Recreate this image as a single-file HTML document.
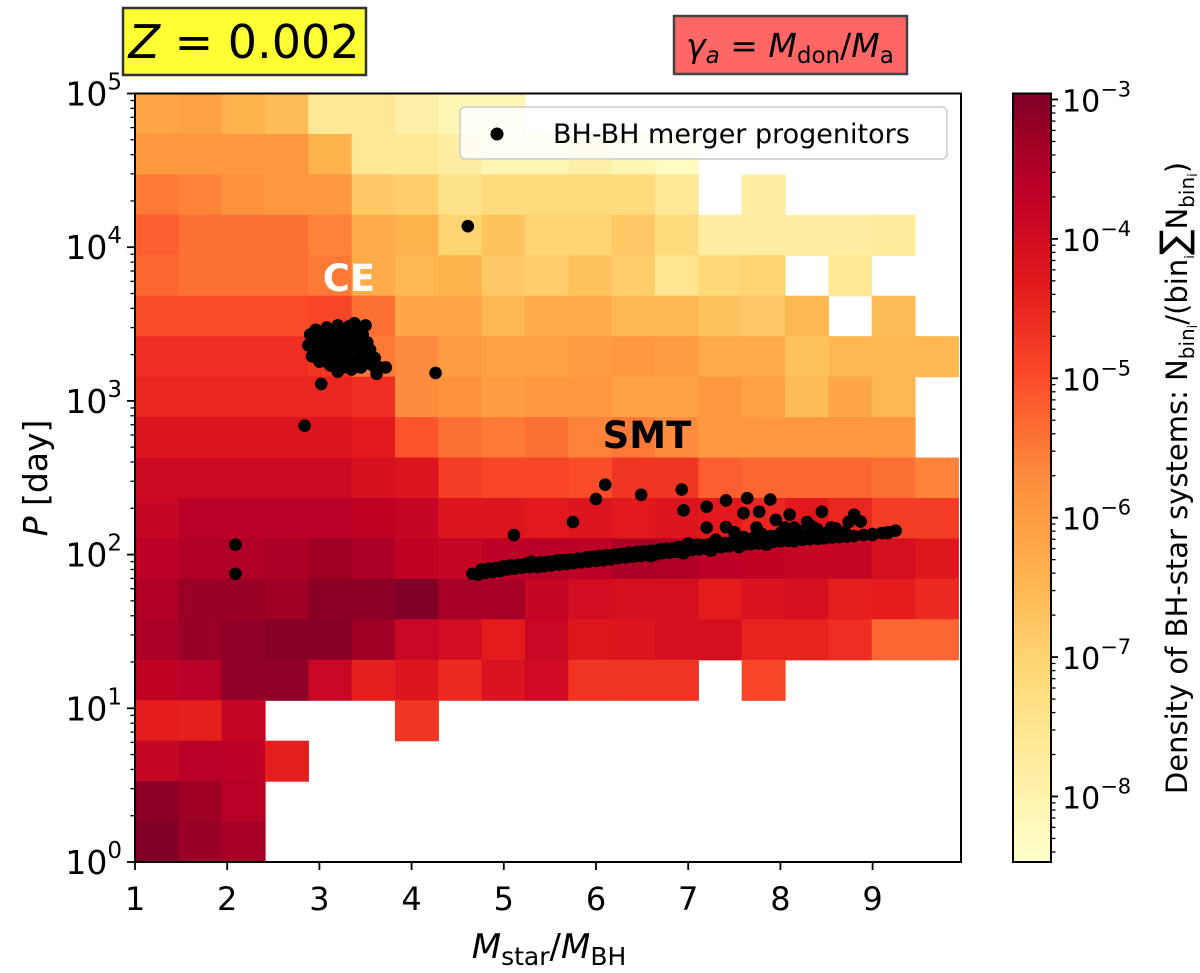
<!DOCTYPE html>
<html><head><meta charset="utf-8">
<style>
html,body{margin:0;padding:0;background:#fff;}
svg{display:block;font-family:"DejaVu Sans","Liberation Sans",sans-serif;}
</style></head>
<body>
<svg id="chart" width="1200" height="973" viewBox="0 0 1200 973" xmlns="http://www.w3.org/2000/svg">
  <defs>
    <linearGradient id="cbgrad" x1="0" y1="1" x2="0" y2="0">
      <stop offset="0" stop-color="#ffffcc"/><stop offset="0.125" stop-color="#ffeda0"/>
      <stop offset="0.25" stop-color="#fed976"/><stop offset="0.375" stop-color="#feb24c"/>
      <stop offset="0.5" stop-color="#fd8d3c"/><stop offset="0.625" stop-color="#fc4e2a"/>
      <stop offset="0.75" stop-color="#e31a1c"/><stop offset="0.875" stop-color="#bd0026"/>
      <stop offset="1" stop-color="#800026"/>
    </linearGradient>
    <clipPath id="plotclip"><rect x="135" y="93.5" width="826" height="768.5"/></clipPath>
  </defs>
  <g id="heat" clip-path="url(#plotclip)"></g>
  <g id="pts" clip-path="url(#plotclip)"></g>
  <text x="349" y="291" font-size="37" font-weight="bold" fill="#fff" text-anchor="middle">CE</text>
  <text x="647" y="448" font-size="37" font-weight="bold" fill="#000" text-anchor="middle">SMT</text>
  <g>
    <rect x="460" y="107" width="487" height="52" rx="5" fill="#fff" fill-opacity="0.85" stroke="#ccc" stroke-width="1.5"/>
    <circle cx="497" cy="134" r="6.5" fill="#000"/>
    <text x="553" y="143" font-size="27" fill="#000">BH-BH merger progenitors</text>
  </g>
  <rect x="135" y="93.5" width="826" height="768.5" fill="none" stroke="#000" stroke-width="2"/>
  <g id="axes"></g>
  <text x="549" y="958" font-size="34" text-anchor="middle"><tspan font-style="italic">M</tspan><tspan font-size="25" dy="7">star</tspan><tspan dy="-7">/</tspan><tspan font-style="italic">M</tspan><tspan font-size="25" dy="7">BH</tspan></text>
  <text transform="translate(47,478) rotate(-90)" font-size="33" text-anchor="middle"><tspan font-style="italic">P</tspan> [day]</text>
  <rect x="1013" y="93.5" width="38" height="768.5" fill="url(#cbgrad)" stroke="#000" stroke-width="2"/>
  <g id="cbaxis"></g>
  <text transform="translate(1187,478) rotate(-90)" font-size="29" text-anchor="middle">Density of BH-star systems: N<tspan font-size="20" dy="7">bin</tspan><tspan font-size="13" dy="3">i</tspan><tspan dy="-10">/(bin</tspan><tspan font-size="13" dy="7">i</tspan><tspan dy="-7" font-size="38">∑</tspan>N<tspan font-size="20" dy="7">bin</tspan><tspan font-size="13" dy="3">i</tspan><tspan dy="-10">)</tspan></text>
  <g>
    <rect x="123" y="8" width="243" height="67" fill="#ffff33" stroke="#333" stroke-width="2.5"/>
    <text x="244" y="58" font-size="46" text-anchor="middle"><tspan font-style="italic">Z</tspan> = 0.002</text>
  </g>
  <g>
    <rect x="674" y="16" width="233" height="58" fill="#ff6666" stroke="#444" stroke-width="2.5"/>
    <text x="790" y="57" font-size="33" text-anchor="middle"><tspan font-style="italic">γ</tspan><tspan font-style="italic" font-size="23" dy="6">a</tspan><tspan dy="-6"> = </tspan><tspan font-style="italic">M</tspan><tspan font-size="23" dy="6">don</tspan><tspan dy="-6">/</tspan><tspan font-style="italic">M</tspan><tspan font-size="23" dy="6">a</tspan></text>
  </g>
</svg>
<script>
// ---- data ----
const xBinStart = 1.0, xBinWidth = 0.47, nCols = 19;
const logPMin = 0, logPMax = 5, nRows = 19;
// log10 density per cell, rows from top (high P) to bottom (low P)
const densityRows = [
 [-6.2,-6.1,-6.4,-6.6,-7.6,-7.6,-7.9,-8.1,-8.1,null,null,null,null,null,null,null,null,null,null],
 [-5.9,-5.9,-5.9,-5.9,-6.4,-7.6,-7.6,-7.8,-8.1,-8.1,-7.9,-8.1,-8.3,null,null,null,null,null,null],
 [-5.5,-5.6,-5.8,-5.9,-5.9,-6.8,-6.9,-7.4,-7.2,-7.2,-7.2,-7.2,-7.6,null,-7.8,null,null,null,null],
 [-5.2,-5.4,-5.4,-5.4,-5.6,-6.3,-6.4,-7.0,-6.7,-7.0,-7.0,-6.8,-7.2,-7.8,-7.8,-7.8,-7.8,-7.7,null],
 [-5.3,-5.4,-5.4,-5.4,-5.5,-6.3,-6.5,-6.4,-6.8,-6.9,-6.7,-6.9,-7.5,-7.1,-7.0,null,-7.6,null,null],
 [-5.0,-5.0,-5.0,-5.0,-4.9,-5.4,-6.2,-6.2,-6.5,-6.3,-6.3,-6.5,-6.5,-6.7,-6.8,-6.5,null,-6.6,null],
 [-4.6,-4.6,-4.6,-4.6,-4.7,-5.5,-5.7,-6.0,-6.1,-6.1,-6.0,-5.9,-6.0,-6.3,-6.3,-6.7,-6.5,-6.5,-6.5],
 [-4.5,-4.5,-4.5,-4.5,-4.5,-4.6,-5.7,-5.8,-6.0,-5.9,-5.9,-6.1,-6.1,-5.9,-6.1,-6.6,-6.2,-6.5,null],
 [-4.2,-4.2,-4.2,-4.2,-4.2,-4.3,-5.1,-5.4,-5.5,-5.4,-5.6,-5.5,-5.7,-5.9,-5.9,-5.9,-5.9,-5.9,null],
 [-3.9,-3.9,-3.9,-3.9,-3.9,-4.1,-4.2,-4.8,-4.9,-4.9,-5.0,-4.7,-4.7,-5.2,-5.3,-5.3,-5.3,-5.4,-5.6],
 [-3.8,-3.6,-3.6,-3.6,-3.6,-3.7,-3.8,-4.2,-4.2,-4.3,-4.2,-4.3,-4.2,-4.3,-4.5,-4.3,-4.5,-4.8,-4.8],
 [-3.65,-3.5,-3.5,-3.45,-3.3,-3.45,-3.7,-3.8,-3.65,-3.6,-3.65,-3.45,-3.5,-3.65,-3.7,-3.8,-3.8,-4.05,-4.25],
 [-3.5,-3.25,-3.25,-3.3,-3.1,-3.1,-2.97,-3.4,-3.4,-3.8,-4.0,-4.05,-4.05,-4.35,-4.15,-4.05,-4.4,-4.35,-4.55],
 [-3.45,-3.25,-3.15,-3.05,-3.05,-3.3,-3.85,-4.0,-4.35,-3.85,-4.25,-4.2,-4.05,-4.05,-4.45,-4.45,-4.6,-5.3,-5.3],
 [-3.7,-3.6,-3.15,-3.15,-3.85,-4.4,-4.2,-4.55,-4.15,-3.95,-4.7,-4.7,-4.7,null,-4.9,null,null,null,null],
 [-4.35,-4.4,-3.8,null,null,null,-4.7,null,null,null,null,null,null,null,null,null,null,null,null],
 [-3.8,-3.6,-3.65,-4.4,null,null,null,null,null,null,null,null,null,null,null,null,null,null,null],
 [-3.1,-3.3,-3.6,null,null,null,null,null,null,null,null,null,null,null,null,null,null,null,null],
 [-2.97,-3.25,-3.4,null,null,null,null,null,null,null,null,null,null,null,null,null,null,null,null]
];
const progenitorMass = [4.61,4.26,3.02,2.84,2.09,2.09,
 2.9,2.96,3.02,3.08,3.14,3.2,3.26,3.32,3.38,3.44,3.5,2.88,2.95,3.03,3.1,3.17,3.24,3.31,3.38,3.45,3.52,2.92,3.0,3.07,3.14,3.21,3.28,3.35,3.42,3.49,3.56,3.25,3.35,3.45,3.58,3.66,3.05,3.55,3.2,3.62,3.72,3.12,
 2.93,2.99,3.05,3.11,3.17,3.23,3.29,3.35,3.41,3.47,2.98,3.06,3.14,3.22,3.3,3.38,3.46,3.54,3.6,3.1,3.18,3.26,3.34,3.42,3.5,3.15,3.3,3.4,
 4.66,4.72,4.8,4.88,4.96,5.04,5.12,5.2,5.28,5.36,5.44,5.52,5.6,5.68,5.76,5.84,5.92,6.0,6.08,6.16,6.24,6.32,6.4,6.48,6.56,6.64,6.72,6.8,6.88,6.96,7.04,7.12,7.2,7.28,7.36,7.44,7.52,7.6,7.68,7.76,7.84,7.92,8.0,8.08,8.16,8.24,8.32,8.4,8.48,8.56,8.64,8.72,8.8,8.9,9.0,9.1,9.17,9.25,
 4.76,4.84,4.92,5.0,5.08,5.16,5.24,5.32,5.4,5.48,5.56,5.64,5.72,5.8,5.88,5.96,6.04,6.12,6.2,6.28,6.36,6.44,6.52,6.6,6.68,6.76,6.84,6.92,7.0,7.08,7.16,7.24,7.32,7.4,7.48,7.56,7.64,7.72,7.8,7.88,7.96,8.04,8.12,8.2,8.28,8.36,8.44,8.52,8.6,8.68,
 5.3,5.6,5.9,6.2,6.5,6.7,6.9,7.1,7.3,7.5,7.7,7.9,8.1,8.3,8.5,8.7,6.6,6.95,7.25,7.55,7.85,8.15,8.45,
 7.0,7.3,7.6,7.8,8.0,8.2,8.4,8.6,7.5,7.75,8.05,8.35,8.55,
 6.1,6.0,6.49,6.93,6.95,5.75,5.11,7.2,7.2,7.41,7.64,7.89,7.41,7.6,7.77,8.1,8.29,8.45,8.8,8.87,8.74,9.0,9.17,7.95,8.15,7.74];
const progenitorPeriod = [13700,1520,1290,690,116,75,
 2700,2900,2500,3000,2800,3100,2900,3050,3200,2950,3100,2300,2200,2300,2400,2450,2500,2550,2600,2650,2400,1950,1800,1950,2050,1900,2000,1850,1950,1850,1800,1650,1600,1650,1700,1650,1950,2150,1550,1500,1650,1700,
 2500,2600,2700,2650,2550,2700,2600,2750,2500,2700,2100,2150,2100,2200,2150,2250,2200,2050,1900,1750,1750,1800,1750,1750,1750,2400,2300,2350,
 75,74,76,77,78,80,81,82,83,83,84,85,86,87,88,89,90,91,92,93,95,96,97,98,99,100,102,103,104,105,107,108,109,111,112,113,115,116,117,118,120,121,122,123,124,125,126,127,128,129,130,131,132,134,136,138,140,143,
 80,81,82,84,85,86,87,88,89,90,91,92,93,94,95,97,98,99,100,101,103,104,105,106,107,109,110,111,113,114,115,117,118,119,121,122,124,125,126,128,129,130,131,132,133,134,136,137,138,139,
 90,92,96,100,104,108,112,116,120,124,128,132,134,136,138,140,98,102,106,112,116,122,128,
 118,125,130,136,138,142,146,148,140,145,150,152,150,
 285,230,245,265,194,163,134,150,205,225,233,228,151,186,190,182,163,190,182,164,163,134,138,168,150,150];
const xTicks = [1,2,3,4,5,6,7,8,9];
const yTickExps = [0,1,2,3,4,5];
const cbTickExps = [-3,-4,-5,-6,-7,-8];
const cbMin = -8.47, cbMax = -2.957;

// ---- scales ----
const PL=135, PR=961, PT=93.5, PB=862;
function xs(v){return PL+(v-1)*92.2;}
function ys(logP){return PB-(logP)*(PB-PT)/5;}
function cbY(e){return 862-(e-cbMin)/(cbMax-cbMin)*(862-93.5);}
const stops=["#ffffcc","#ffeda0","#fed976","#feb24c","#fd8d3c","#fc4e2a","#e31a1c","#bd0026","#800026"].map(h=>[parseInt(h.slice(1,3),16),parseInt(h.slice(3,5),16),parseInt(h.slice(5,7),16)]);
function cmap(v){let t=(v-cbMin)/(cbMax-cbMin);t=Math.max(0,Math.min(1,t));const f=t*8,i=Math.min(7,Math.floor(f)),r=f-i;const a=stops[i],b=stops[i+1];return `rgb(${Math.round(a[0]+(b[0]-a[0])*r)},${Math.round(a[1]+(b[1]-a[1])*r)},${Math.round(a[2]+(b[2]-a[2])*r)})`;}
const NS="http://www.w3.org/2000/svg";
function mk(tag,attrs,parent){const e=document.createElementNS(NS,tag);for(const k in attrs)e.setAttribute(k,attrs[k]);parent.appendChild(e);return e;}

// ---- heatmap ----
const heat=document.getElementById('heat');
const rowStep=(logPMax-logPMin)/nRows;
densityRows.forEach((row,ri)=>{
  const topLog=logPMax-ri*rowStep, botLog=topLog-rowStep;
  row.forEach((v,ci)=>{
    if(v===null)return;
    const x0=xs(xBinStart+ci*xBinWidth), x1=xs(xBinStart+(ci+1)*xBinWidth);
    const y0=ys(topLog), y1=ys(botLog);
    const r=mk('rect',{x:x0.toFixed(2),y:y0.toFixed(2),width:(x1-x0+0.6).toFixed(2),height:(y1-y0+0.6).toFixed(2),fill:cmap(v)},heat);
    
    
  });
});

// ---- scatter ----
const pts=document.getElementById('pts');
progenitorMass.forEach((m,i)=>{
  const c=mk('circle',{cx:xs(m).toFixed(2),cy:ys(Math.log10(progenitorPeriod[i])).toFixed(2),r:6.3,fill:'#000'},pts);
  
  
});

// ---- axes ----
const ax=document.getElementById('axes');
xTicks.forEach(t=>{
  const x=xs(t);
  mk('line',{x1:x,y1:PB,x2:x,y2:PB+8,stroke:'#000','stroke-width':1.8},ax);
  const tx=mk('text',{x:x,y:910,'font-size':32,'text-anchor':'middle'},ax);
  tx.textContent=t;
  
  
});
yTickExps.forEach(e=>{
  const y=ys(e);
  mk('line',{x1:PL,y1:y,x2:PL-8,y2:y,stroke:'#000','stroke-width':1.8},ax);
  const tx=mk('text',{x:122,y:y+12,'font-size':33,'text-anchor':'end'},ax);
  tx.innerHTML='10<tspan font-size="23" dy="-16">'+e+'</tspan>';
  
  
  if(e<5){for(let k=2;k<10;k++){const yy=ys(e+Math.log10(k));mk('line',{x1:PL,y1:yy,x2:PL-4.5,y2:yy,stroke:'#000','stroke-width':1.3},ax);}}
});

// ---- colorbar axis ----
const cba=document.getElementById('cbaxis');
cbTickExps.forEach(e=>{
  const y=cbY(e);
  mk('line',{x1:1051,y1:y,x2:1058,y2:y,stroke:'#000','stroke-width':1.8},cba);
  const tx=mk('text',{x:1062,y:y+12,'font-size':30},cba);
  tx.innerHTML='10<tspan font-size="21" dy="-15">−'+(-e)+'</tspan>';
  
  
});
for(let e=-9;e<=-3;e++){for(let k=2;k<10;k++){const v=e+Math.log10(k);if(v<cbMin||v>cbMax)continue;const y=cbY(v);mk('line',{x1:1051,y1:y,x2:1055.5,y2:y,stroke:'#000','stroke-width':1.3},cba);}}
</script>
</body></html>
